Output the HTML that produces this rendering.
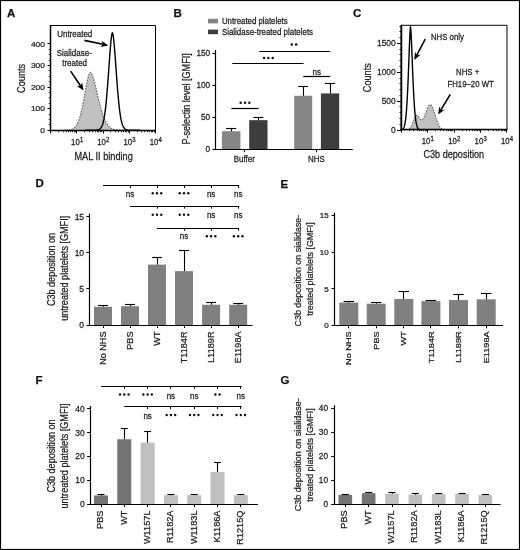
<!DOCTYPE html>
<html><head><meta charset="utf-8"><style>
html,body{margin:0;padding:0;background:#fff;}
svg{display:block;filter:grayscale(1);}
text{font-family:"Liberation Sans", sans-serif;stroke:#222;stroke-width:0.25px;}
</style></head><body>
<svg width="520" height="550" viewBox="0 0 520 550">
<rect x="0" y="0" width="520" height="550" fill="#fff"/>
<rect x="0.50" y="0.50" width="519.00" height="549.00" fill="none" stroke="#000" stroke-width="1.2"/>
<text transform="translate(7.00 17.00)" font-size="11.50" text-anchor="start" font-weight="bold" fill="#111" >A</text>
<text transform="translate(173.50 17.00)" font-size="11.50" text-anchor="start" font-weight="bold" fill="#111" >B</text>
<text transform="translate(353.00 17.00)" font-size="11.50" text-anchor="start" font-weight="bold" fill="#111" >C</text>
<text transform="translate(35.50 187.30)" font-size="11.50" text-anchor="start" font-weight="bold" fill="#111" >D</text>
<text transform="translate(280.50 187.50)" font-size="11.50" text-anchor="start" font-weight="bold" fill="#111" >E</text>
<text transform="translate(35.50 383.80)" font-size="11.50" text-anchor="start" font-weight="bold" fill="#111" >F</text>
<text transform="translate(280.50 383.80)" font-size="11.50" text-anchor="start" font-weight="bold" fill="#111" >G</text>
<path d="M60.00,130.20 L60.54,130.20 L61.08,130.20 L61.62,130.19 L62.17,130.19 L62.71,130.19 L63.25,130.18 L63.79,130.18 L64.33,130.17 L64.88,130.16 L65.42,130.15 L65.96,130.14 L66.50,130.12 L67.04,130.09 L67.58,130.06 L68.12,130.02 L68.67,129.97 L69.21,129.90 L69.75,129.82 L70.29,129.72 L70.83,129.60 L71.38,129.44 L71.92,129.25 L72.46,129.03 L73.00,128.75 L73.54,128.42 L74.08,128.03 L74.62,127.56 L75.17,127.01 L75.71,126.37 L76.25,125.62 L76.79,124.75 L77.33,123.75 L77.88,122.62 L78.42,121.33 L78.96,119.88 L79.50,118.27 L80.04,116.48 L80.58,114.51 L81.12,112.37 L81.67,110.05 L82.21,107.57 L82.75,104.93 L83.29,102.17 L83.83,99.29 L84.38,96.33 L84.92,93.32 L85.46,90.32 L86.00,87.35 L86.54,84.48 L87.08,81.77 L87.62,79.26 L88.17,77.03 L88.71,75.14 L89.25,73.66 L89.79,72.67 L90.30,72.30 L90.33,72.30 L90.88,72.60 L91.42,73.28 L91.96,74.27 L92.50,75.55 L93.04,77.06 L93.58,78.78 L94.12,80.67 L94.67,82.71 L95.21,84.87 L95.75,87.11 L96.29,89.42 L96.83,91.75 L97.38,94.11 L97.92,96.45 L98.46,98.76 L99.00,101.03 L99.54,103.24 L100.08,105.38 L100.62,107.43 L101.17,109.39 L101.71,111.25 L102.25,113.00 L102.79,114.65 L103.33,116.20 L103.88,117.63 L104.42,118.95 L104.96,120.18 L105.50,121.29 L106.04,122.32 L106.58,123.24 L107.12,124.08 L107.67,124.84 L108.21,125.52 L108.75,126.12 L109.29,126.66 L109.83,127.14 L110.38,127.56 L110.92,127.93 L111.46,128.26 L112.00,128.54 L112.54,128.79 L113.08,129.00 L113.62,129.19 L114.17,129.35 L114.71,129.48 L115.25,129.60 L115.79,129.70 L116.33,129.78 L116.88,129.85 L117.42,129.91 L117.96,129.96 L118.50,130.01 L119.04,130.04 L119.58,130.07 L120.12,130.09 L120.67,130.11 L121.21,130.13 L121.75,130.14 L122.29,130.15 L122.83,130.16 L123.38,130.17 L123.92,130.18 L124.46,130.18 L125.00,130.19 L125,130.2 L60,130.2 Z" fill="#c0c0c0" stroke="none" stroke-width="1" />
<path d="M60.00,130.20 L60.54,130.20 L61.08,130.20 L61.62,130.19 L62.17,130.19 L62.71,130.19 L63.25,130.18 L63.79,130.18 L64.33,130.17 L64.88,130.16 L65.42,130.15 L65.96,130.14 L66.50,130.12 L67.04,130.09 L67.58,130.06 L68.12,130.02 L68.67,129.97 L69.21,129.90 L69.75,129.82 L70.29,129.72 L70.83,129.60 L71.38,129.44 L71.92,129.25 L72.46,129.03 L73.00,128.75 L73.54,128.42 L74.08,128.03 L74.62,127.56 L75.17,127.01 L75.71,126.37 L76.25,125.62 L76.79,124.75 L77.33,123.75 L77.88,122.62 L78.42,121.33 L78.96,119.88 L79.50,118.27 L80.04,116.48 L80.58,114.51 L81.12,112.37 L81.67,110.05 L82.21,107.57 L82.75,104.93 L83.29,102.17 L83.83,99.29 L84.38,96.33 L84.92,93.32 L85.46,90.32 L86.00,87.35 L86.54,84.48 L87.08,81.77 L87.62,79.26 L88.17,77.03 L88.71,75.14 L89.25,73.66 L89.79,72.67 L90.30,72.30 L90.33,72.30 L90.88,72.60 L91.42,73.28 L91.96,74.27 L92.50,75.55 L93.04,77.06 L93.58,78.78 L94.12,80.67 L94.67,82.71 L95.21,84.87 L95.75,87.11 L96.29,89.42 L96.83,91.75 L97.38,94.11 L97.92,96.45 L98.46,98.76 L99.00,101.03 L99.54,103.24 L100.08,105.38 L100.62,107.43 L101.17,109.39 L101.71,111.25 L102.25,113.00 L102.79,114.65 L103.33,116.20 L103.88,117.63 L104.42,118.95 L104.96,120.18 L105.50,121.29 L106.04,122.32 L106.58,123.24 L107.12,124.08 L107.67,124.84 L108.21,125.52 L108.75,126.12 L109.29,126.66 L109.83,127.14 L110.38,127.56 L110.92,127.93 L111.46,128.26 L112.00,128.54 L112.54,128.79 L113.08,129.00 L113.62,129.19 L114.17,129.35 L114.71,129.48 L115.25,129.60 L115.79,129.70 L116.33,129.78 L116.88,129.85 L117.42,129.91 L117.96,129.96 L118.50,130.01 L119.04,130.04 L119.58,130.07 L120.12,130.09 L120.67,130.11 L121.21,130.13 L121.75,130.14 L122.29,130.15 L122.83,130.16 L123.38,130.17 L123.92,130.18 L124.46,130.18 L125.00,130.19" fill="none" stroke="#5e5e5e" stroke-width="1.1" stroke-dasharray="1.6 1.3"/>
<path d="M85.00,130.20 L85.46,130.20 L85.92,130.20 L86.38,130.20 L86.83,130.20 L87.29,130.20 L87.75,130.20 L88.21,130.20 L88.67,130.20 L89.12,130.20 L89.58,130.20 L90.04,130.20 L90.50,130.20 L90.96,130.20 L91.42,130.20 L91.88,130.20 L92.33,130.20 L92.79,130.19 L93.25,130.19 L93.71,130.19 L94.17,130.18 L94.62,130.17 L95.08,130.16 L95.54,130.15 L96.00,130.12 L96.46,130.09 L96.92,130.04 L97.38,129.98 L97.83,129.89 L98.29,129.77 L98.75,129.62 L99.21,129.41 L99.67,129.13 L100.12,128.78 L100.58,128.32 L101.04,127.73 L101.50,126.99 L101.96,126.06 L102.42,124.91 L102.88,123.50 L103.33,121.79 L103.79,119.74 L104.25,117.31 L104.71,114.45 L105.17,111.14 L105.62,107.35 L106.08,103.07 L106.54,98.30 L107.00,93.05 L107.46,87.37 L107.92,81.33 L108.38,75.00 L108.83,68.52 L109.29,62.02 L109.75,55.67 L110.21,49.67 L110.67,44.21 L111.12,39.54 L111.58,35.88 L112.04,33.51 L112.40,32.80 L112.50,32.87 L112.96,34.33 L113.42,37.23 L113.88,41.27 L114.33,46.21 L114.79,51.82 L115.25,57.89 L115.71,64.23 L116.17,70.66 L116.62,77.02 L117.08,83.19 L117.54,89.05 L118.00,94.54 L118.46,99.60 L118.92,104.18 L119.38,108.29 L119.83,111.92 L120.29,115.09 L120.75,117.82 L121.21,120.14 L121.67,122.11 L122.12,123.74 L122.58,125.09 L123.04,126.20 L123.50,127.09 L123.96,127.80 L124.42,128.36 L124.88,128.81 L125.33,129.15 L125.79,129.42 L126.25,129.62 L126.71,129.78 L127.17,129.89 L127.62,129.98 L128.08,130.04 L128.54,130.09 L129.00,130.12 L129.46,130.14 L129.92,130.16 L130.38,130.17 L130.83,130.18 L131.29,130.19 L131.75,130.19 L132.21,130.19 L132.67,130.20 L133.12,130.20 L133.58,130.20 L134.04,130.20 L134.50,130.20 L134.96,130.20 L135.42,130.20 L135.88,130.20 L136.33,130.20 L136.79,130.20 L137.25,130.20 L137.71,130.20 L138.17,130.20 L138.62,130.20 L139.08,130.20 L139.54,130.20 L140.00,130.20" fill="none" stroke="#000" stroke-width="1.4" />
<path d="M50.5,25.5 H155.5 V130.5 H50.5 Z" fill="none" stroke="#000" stroke-width="1.0" />
<line x1="50.50" y1="25.00" x2="50.50" y2="131.00" stroke="#000" stroke-width="1.5" />
<line x1="50.00" y1="130.50" x2="156.00" y2="130.50" stroke="#000" stroke-width="1.5" />
<line x1="47.50" y1="130.50" x2="50.50" y2="130.50" stroke="#000" stroke-width="1" />
<text transform="translate(44.90 132.80) scale(1.0526 1)" font-size="7.98" text-anchor="end" font-weight="normal" fill="#222" >0</text>
<line x1="48.70" y1="124.50" x2="50.50" y2="124.50" stroke="#000" stroke-width="0.8" />
<line x1="48.70" y1="119.50" x2="50.50" y2="119.50" stroke="#000" stroke-width="0.8" />
<line x1="48.70" y1="114.50" x2="50.50" y2="114.50" stroke="#000" stroke-width="0.8" />
<line x1="47.50" y1="108.50" x2="50.50" y2="108.50" stroke="#000" stroke-width="1" />
<text transform="translate(44.90 111.25) scale(1.0526 1)" font-size="7.98" text-anchor="end" font-weight="normal" fill="#222" >100</text>
<line x1="48.70" y1="103.50" x2="50.50" y2="103.50" stroke="#000" stroke-width="0.8" />
<line x1="48.70" y1="97.50" x2="50.50" y2="97.50" stroke="#000" stroke-width="0.8" />
<line x1="48.70" y1="92.50" x2="50.50" y2="92.50" stroke="#000" stroke-width="0.8" />
<line x1="47.50" y1="87.50" x2="50.50" y2="87.50" stroke="#000" stroke-width="1" />
<text transform="translate(44.90 89.70) scale(1.0526 1)" font-size="7.98" text-anchor="end" font-weight="normal" fill="#222" >200</text>
<line x1="48.70" y1="81.50" x2="50.50" y2="81.50" stroke="#000" stroke-width="0.8" />
<line x1="48.70" y1="76.50" x2="50.50" y2="76.50" stroke="#000" stroke-width="0.8" />
<line x1="48.70" y1="70.50" x2="50.50" y2="70.50" stroke="#000" stroke-width="0.8" />
<line x1="47.50" y1="65.50" x2="50.50" y2="65.50" stroke="#000" stroke-width="1" />
<text transform="translate(44.90 68.15) scale(1.0526 1)" font-size="7.98" text-anchor="end" font-weight="normal" fill="#222" >300</text>
<line x1="48.70" y1="60.50" x2="50.50" y2="60.50" stroke="#000" stroke-width="0.8" />
<line x1="48.70" y1="54.50" x2="50.50" y2="54.50" stroke="#000" stroke-width="0.8" />
<line x1="48.70" y1="49.50" x2="50.50" y2="49.50" stroke="#000" stroke-width="0.8" />
<line x1="47.50" y1="43.50" x2="50.50" y2="43.50" stroke="#000" stroke-width="1" />
<text transform="translate(44.90 46.60) scale(1.0526 1)" font-size="7.98" text-anchor="end" font-weight="normal" fill="#222" >400</text>
<line x1="50.50" y1="130.50" x2="50.50" y2="133.50" stroke="#000" stroke-width="1" />
<line x1="58.50" y1="130.50" x2="58.50" y2="132.30" stroke="#000" stroke-width="0.8" />
<line x1="63.50" y1="130.50" x2="63.50" y2="132.30" stroke="#000" stroke-width="0.8" />
<line x1="66.50" y1="130.50" x2="66.50" y2="132.30" stroke="#000" stroke-width="0.8" />
<line x1="68.50" y1="130.50" x2="68.50" y2="132.30" stroke="#000" stroke-width="0.8" />
<line x1="70.50" y1="130.50" x2="70.50" y2="132.30" stroke="#000" stroke-width="0.8" />
<line x1="72.50" y1="130.50" x2="72.50" y2="132.30" stroke="#000" stroke-width="0.8" />
<line x1="74.50" y1="130.50" x2="74.50" y2="132.30" stroke="#000" stroke-width="0.8" />
<line x1="75.50" y1="130.50" x2="75.50" y2="132.30" stroke="#000" stroke-width="0.8" />
<line x1="76.50" y1="130.50" x2="76.50" y2="133.50" stroke="#000" stroke-width="1" />
<line x1="84.50" y1="130.50" x2="84.50" y2="132.30" stroke="#000" stroke-width="0.8" />
<line x1="89.50" y1="130.50" x2="89.50" y2="132.30" stroke="#000" stroke-width="0.8" />
<line x1="92.50" y1="130.50" x2="92.50" y2="132.30" stroke="#000" stroke-width="0.8" />
<line x1="95.50" y1="130.50" x2="95.50" y2="132.30" stroke="#000" stroke-width="0.8" />
<line x1="97.50" y1="130.50" x2="97.50" y2="132.30" stroke="#000" stroke-width="0.8" />
<line x1="98.50" y1="130.50" x2="98.50" y2="132.30" stroke="#000" stroke-width="0.8" />
<line x1="100.50" y1="130.50" x2="100.50" y2="132.30" stroke="#000" stroke-width="0.8" />
<line x1="101.50" y1="130.50" x2="101.50" y2="132.30" stroke="#000" stroke-width="0.8" />
<line x1="103.50" y1="130.50" x2="103.50" y2="133.50" stroke="#000" stroke-width="1" />
<line x1="110.50" y1="130.50" x2="110.50" y2="132.30" stroke="#000" stroke-width="0.8" />
<line x1="115.50" y1="130.50" x2="115.50" y2="132.30" stroke="#000" stroke-width="0.8" />
<line x1="118.50" y1="130.50" x2="118.50" y2="132.30" stroke="#000" stroke-width="0.8" />
<line x1="121.50" y1="130.50" x2="121.50" y2="132.30" stroke="#000" stroke-width="0.8" />
<line x1="123.50" y1="130.50" x2="123.50" y2="132.30" stroke="#000" stroke-width="0.8" />
<line x1="125.50" y1="130.50" x2="125.50" y2="132.30" stroke="#000" stroke-width="0.8" />
<line x1="126.50" y1="130.50" x2="126.50" y2="132.30" stroke="#000" stroke-width="0.8" />
<line x1="128.50" y1="130.50" x2="128.50" y2="132.30" stroke="#000" stroke-width="0.8" />
<line x1="129.50" y1="130.50" x2="129.50" y2="133.50" stroke="#000" stroke-width="1" />
<line x1="137.50" y1="130.50" x2="137.50" y2="132.30" stroke="#000" stroke-width="0.8" />
<line x1="141.50" y1="130.50" x2="141.50" y2="132.30" stroke="#000" stroke-width="0.8" />
<line x1="144.50" y1="130.50" x2="144.50" y2="132.30" stroke="#000" stroke-width="0.8" />
<line x1="147.50" y1="130.50" x2="147.50" y2="132.30" stroke="#000" stroke-width="0.8" />
<line x1="149.50" y1="130.50" x2="149.50" y2="132.30" stroke="#000" stroke-width="0.8" />
<line x1="151.50" y1="130.50" x2="151.50" y2="132.30" stroke="#000" stroke-width="0.8" />
<line x1="152.50" y1="130.50" x2="152.50" y2="132.30" stroke="#000" stroke-width="0.8" />
<line x1="154.50" y1="130.50" x2="154.50" y2="132.30" stroke="#000" stroke-width="0.8" />
<line x1="155.50" y1="130.50" x2="155.50" y2="133.50" stroke="#000" stroke-width="1" />
<text transform="translate(75.40 144.80) scale(0.9091 1)" font-size="8.58" text-anchor="middle" font-weight="normal" fill="#222" >10</text>
<text transform="translate(79.90 141.60) scale(0.9091 1)" font-size="6.60" text-anchor="start" font-weight="normal" fill="#222" >1</text>
<text transform="translate(101.60 144.80) scale(0.9091 1)" font-size="8.58" text-anchor="middle" font-weight="normal" fill="#222" >10</text>
<text transform="translate(106.10 141.60) scale(0.9091 1)" font-size="6.60" text-anchor="start" font-weight="normal" fill="#222" >2</text>
<text transform="translate(127.80 144.80) scale(0.9091 1)" font-size="8.58" text-anchor="middle" font-weight="normal" fill="#222" >10</text>
<text transform="translate(132.30 141.60) scale(0.9091 1)" font-size="6.60" text-anchor="start" font-weight="normal" fill="#222" >3</text>
<text transform="translate(154.00 144.80) scale(0.9091 1)" font-size="8.58" text-anchor="middle" font-weight="normal" fill="#222" >10</text>
<text transform="translate(158.50 141.60) scale(0.9091 1)" font-size="6.60" text-anchor="start" font-weight="normal" fill="#222" >4</text>
<text transform="translate(74.40 159.60) scale(0.9091 1)" font-size="10.12" text-anchor="start" font-weight="normal" fill="#222" >MAL II binding</text>
<text transform="translate(25.20 78.40) rotate(-90) scale(0.8197 1)" font-size="11.22" text-anchor="middle" font-weight="normal" fill="#222" >Counts</text>
<text transform="translate(57.20 37.30) scale(0.9091 1)" font-size="8.80" text-anchor="start" font-weight="normal" fill="#222" >Untreated</text>
<text transform="translate(74.30 56.30) scale(0.9091 1)" font-size="8.80" text-anchor="middle" font-weight="normal" fill="#222" >Sialidase-</text>
<text transform="translate(74.60 65.50) scale(0.9091 1)" font-size="8.80" text-anchor="middle" font-weight="normal" fill="#222" >treated</text>
<line x1="84.40" y1="40.40" x2="103.01" y2="44.29" stroke="#000" stroke-width="1.6" />
<polygon points="108.30,45.40 100.30,47.00 103.01,44.29 101.61,40.73" fill="#000"/>
<line x1="70.60" y1="71.10" x2="80.59" y2="86.01" stroke="#000" stroke-width="1.6" />
<polygon points="83.60,90.50 76.77,86.05 80.59,86.01 82.08,82.49" fill="#000"/>
<rect x="221.90" y="131.24" width="18.50" height="17.96" fill="#858585" stroke="none" stroke-width="0"/>
<line x1="231.50" y1="131.24" x2="231.50" y2="128.55" stroke="#000" stroke-width="1.1" />
<line x1="226.06" y1="128.50" x2="236.24" y2="128.50" stroke="#000" stroke-width="1.1" />
<rect x="249.20" y="120.15" width="18.30" height="29.05" fill="#3d3d3d" stroke="none" stroke-width="0"/>
<line x1="258.50" y1="120.15" x2="258.50" y2="117.26" stroke="#000" stroke-width="1.1" />
<line x1="253.32" y1="117.50" x2="263.38" y2="117.50" stroke="#000" stroke-width="1.1" />
<rect x="294.20" y="95.78" width="18.00" height="53.42" fill="#858585" stroke="none" stroke-width="0"/>
<line x1="303.50" y1="95.78" x2="303.50" y2="86.48" stroke="#000" stroke-width="1.1" />
<line x1="298.25" y1="86.50" x2="308.15" y2="86.50" stroke="#000" stroke-width="1.1" />
<rect x="320.90" y="93.41" width="18.30" height="55.79" fill="#3d3d3d" stroke="none" stroke-width="0"/>
<line x1="330.50" y1="93.41" x2="330.50" y2="83.02" stroke="#000" stroke-width="1.1" />
<line x1="325.02" y1="83.50" x2="335.08" y2="83.50" stroke="#000" stroke-width="1.1" />
<line x1="215.50" y1="50.00" x2="215.50" y2="149.70" stroke="#000" stroke-width="1.2" />
<line x1="215.40" y1="149.50" x2="352.70" y2="149.50" stroke="#000" stroke-width="1.2" />
<line x1="212.40" y1="149.50" x2="215.90" y2="149.50" stroke="#000" stroke-width="1" />
<text transform="translate(210.10 152.00) scale(0.9091 1)" font-size="9.02" text-anchor="end" font-weight="normal" fill="#222" >0</text>
<line x1="212.40" y1="117.50" x2="215.90" y2="117.50" stroke="#000" stroke-width="1" />
<text transform="translate(210.10 119.93) scale(0.9091 1)" font-size="9.02" text-anchor="end" font-weight="normal" fill="#222" >50</text>
<line x1="212.40" y1="85.50" x2="215.90" y2="85.50" stroke="#000" stroke-width="1" />
<text transform="translate(210.10 87.87) scale(0.9091 1)" font-size="9.02" text-anchor="end" font-weight="normal" fill="#222" >100</text>
<line x1="212.40" y1="53.50" x2="215.90" y2="53.50" stroke="#000" stroke-width="1" />
<text transform="translate(210.10 55.80) scale(0.9091 1)" font-size="9.02" text-anchor="end" font-weight="normal" fill="#222" >150</text>
<line x1="244.50" y1="149.20" x2="244.50" y2="152.20" stroke="#000" stroke-width="1" />
<line x1="316.50" y1="149.20" x2="316.50" y2="152.20" stroke="#000" stroke-width="1" />
<text transform="translate(244.30 162.20) scale(0.9091 1)" font-size="8.80" text-anchor="middle" font-weight="normal" fill="#222" >Buffer</text>
<text transform="translate(316.40 162.20) scale(0.9091 1)" font-size="8.80" text-anchor="middle" font-weight="normal" fill="#222" >NHS</text>
<text transform="translate(190.30 98.90) rotate(-90) scale(0.9091 1)" font-size="10.01" text-anchor="middle" font-weight="normal" fill="#222" >P-selectin level [GMFI]</text>
<rect x="208.00" y="18.80" width="10.00" height="4.60" fill="#858585" stroke="none" stroke-width="0"/>
<rect x="208.00" y="29.60" width="10.00" height="4.60" fill="#3d3d3d" stroke="none" stroke-width="0"/>
<text transform="translate(221.90 24.00) scale(0.9091 1)" font-size="8.63" text-anchor="start" font-weight="normal" fill="#222" >Untreated platelets</text>
<text transform="translate(221.90 34.80) scale(0.9091 1)" font-size="8.72" text-anchor="start" font-weight="normal" fill="#222" >Sialidase-treated platelets</text>
<line x1="231.40" y1="108.50" x2="258.60" y2="108.50" stroke="#000" stroke-width="1.2" />
<circle cx="0" cy="0" r="0" fill="none"/>
<circle cx="240.70" cy="102.80" r="1.25" fill="#111"/>
<circle cx="245.00" cy="102.80" r="1.25" fill="#111"/>
<circle cx="249.30" cy="102.80" r="1.25" fill="#111"/>
<line x1="232.30" y1="63.50" x2="303.60" y2="63.50" stroke="#000" stroke-width="1.2" />
<circle cx="0" cy="0" r="0" fill="none"/>
<circle cx="264.10" cy="58.10" r="1.25" fill="#111"/>
<circle cx="268.40" cy="58.10" r="1.25" fill="#111"/>
<circle cx="272.70" cy="58.10" r="1.25" fill="#111"/>
<line x1="259.30" y1="51.50" x2="330.30" y2="51.50" stroke="#000" stroke-width="1.2" />
<circle cx="0" cy="0" r="0" fill="none"/>
<circle cx="291.85" cy="44.50" r="1.25" fill="#111"/>
<circle cx="296.15" cy="44.50" r="1.25" fill="#111"/>
<line x1="303.30" y1="76.50" x2="330.30" y2="76.50" stroke="#000" stroke-width="1.2" />
<text transform="translate(316.80 74.50) scale(0.9091 1)" font-size="8.80" text-anchor="middle" font-weight="normal" fill="#222" >ns</text>
<path d="M404.00,129.99 L404.30,129.99 L404.60,129.99 L404.90,129.98 L405.20,129.97 L405.50,129.96 L405.80,129.95 L406.10,129.93 L406.40,129.91 L406.70,129.87 L407.00,129.83 L407.30,129.78 L407.60,129.71 L407.90,129.63 L408.20,129.52 L408.50,129.39 L408.80,129.23 L409.10,129.04 L409.40,128.82 L409.70,128.55 L410.00,128.24 L410.30,127.88 L410.60,127.47 L410.90,127.00 L411.20,126.48 L411.50,125.90 L411.80,125.27 L412.10,124.59 L412.40,123.87 L412.70,123.11 L413.00,122.33 L413.30,121.52 L413.60,120.72 L413.90,119.92 L414.20,119.15 L414.50,118.41 L414.80,117.73 L415.10,117.12 L415.40,116.58 L415.70,116.14 L416.00,115.79 L416.30,115.55 L416.60,115.41 L416.90,115.38 L417.20,115.44 L417.50,115.60 L417.80,115.85 L418.10,116.16 L418.40,116.53 L418.70,116.94 L419.00,117.38 L419.30,117.82 L419.60,118.25 L419.90,118.66 L420.20,119.02 L420.50,119.33 L420.80,119.57 L421.10,119.75 L421.40,119.84 L421.70,119.84 L422.00,119.76 L422.30,119.59 L422.60,119.33 L422.90,118.99 L423.20,118.56 L423.50,118.07 L423.80,117.50 L424.10,116.87 L424.40,116.19 L424.70,115.46 L425.00,114.70 L425.30,113.91 L425.60,113.10 L425.90,112.28 L426.20,111.45 L426.50,110.64 L426.80,109.85 L427.10,109.08 L427.40,108.34 L427.70,107.66 L428.00,107.02 L428.30,106.45 L428.60,105.94 L428.90,105.51 L429.20,105.17 L429.50,104.90 L429.80,104.73 L430.10,104.65 L430.40,104.67 L430.70,104.78 L431.00,105.00 L431.30,105.30 L431.60,105.70 L431.90,106.18 L432.20,106.75 L432.50,107.40 L432.80,108.11 L433.10,108.89 L433.40,109.73 L433.70,110.61 L434.00,111.53 L434.30,112.47 L434.60,113.44 L434.90,114.42 L435.20,115.40 L435.50,116.38 L435.80,117.35 L436.10,118.29 L436.40,119.21 L436.70,120.10 L437.00,120.96 L437.30,121.77 L437.60,122.55 L437.90,123.28 L438.20,123.96 L438.50,124.60 L438.80,125.19 L439.10,125.73 L439.40,126.23 L439.70,126.68 L440.00,127.09 L440.30,127.47 L440.60,127.80 L440.90,128.10 L441.20,128.36 L441.50,128.60 L441.80,128.80 L442.10,128.98 L442.40,129.14 L442.70,129.27 L443.00,129.39 L443.30,129.49 L443.60,129.58 L443.90,129.65 L444.20,129.71 L444.50,129.76 L444.80,129.80 L445.10,129.84 L445.40,129.87 L445.70,129.90 L446.00,129.92 L446.30,129.93 L446.60,129.95 L446.90,129.96 L447.20,129.97 L447.50,129.97 L447.80,129.98 L448.10,129.98 L448.40,129.99 L448.70,129.99 L449.00,129.99 L449.30,129.99 L449.60,130.00 L449.90,130.00 L450.20,130.00 L450.50,130.00 L450.80,130.00 L451.10,130.00 L451.40,130.00 L451.70,130.00 L452.00,130.00 L452.00,130.00 L404.00,130.00 Z" fill="#c0c0c0" stroke="none" stroke-width="1" />
<path d="M404.00,129.99 L404.30,129.99 L404.60,129.99 L404.90,129.98 L405.20,129.97 L405.50,129.96 L405.80,129.95 L406.10,129.93 L406.40,129.91 L406.70,129.87 L407.00,129.83 L407.30,129.78 L407.60,129.71 L407.90,129.63 L408.20,129.52 L408.50,129.39 L408.80,129.23 L409.10,129.04 L409.40,128.82 L409.70,128.55 L410.00,128.24 L410.30,127.88 L410.60,127.47 L410.90,127.00 L411.20,126.48 L411.50,125.90 L411.80,125.27 L412.10,124.59 L412.40,123.87 L412.70,123.11 L413.00,122.33 L413.30,121.52 L413.60,120.72 L413.90,119.92 L414.20,119.15 L414.50,118.41 L414.80,117.73 L415.10,117.12 L415.40,116.58 L415.70,116.14 L416.00,115.79 L416.30,115.55 L416.60,115.41 L416.90,115.38 L417.20,115.44 L417.50,115.60 L417.80,115.85 L418.10,116.16 L418.40,116.53 L418.70,116.94 L419.00,117.38 L419.30,117.82 L419.60,118.25 L419.90,118.66 L420.20,119.02 L420.50,119.33 L420.80,119.57 L421.10,119.75 L421.40,119.84 L421.70,119.84 L422.00,119.76 L422.30,119.59 L422.60,119.33 L422.90,118.99 L423.20,118.56 L423.50,118.07 L423.80,117.50 L424.10,116.87 L424.40,116.19 L424.70,115.46 L425.00,114.70 L425.30,113.91 L425.60,113.10 L425.90,112.28 L426.20,111.45 L426.50,110.64 L426.80,109.85 L427.10,109.08 L427.40,108.34 L427.70,107.66 L428.00,107.02 L428.30,106.45 L428.60,105.94 L428.90,105.51 L429.20,105.17 L429.50,104.90 L429.80,104.73 L430.10,104.65 L430.40,104.67 L430.70,104.78 L431.00,105.00 L431.30,105.30 L431.60,105.70 L431.90,106.18 L432.20,106.75 L432.50,107.40 L432.80,108.11 L433.10,108.89 L433.40,109.73 L433.70,110.61 L434.00,111.53 L434.30,112.47 L434.60,113.44 L434.90,114.42 L435.20,115.40 L435.50,116.38 L435.80,117.35 L436.10,118.29 L436.40,119.21 L436.70,120.10 L437.00,120.96 L437.30,121.77 L437.60,122.55 L437.90,123.28 L438.20,123.96 L438.50,124.60 L438.80,125.19 L439.10,125.73 L439.40,126.23 L439.70,126.68 L440.00,127.09 L440.30,127.47 L440.60,127.80 L440.90,128.10 L441.20,128.36 L441.50,128.60 L441.80,128.80 L442.10,128.98 L442.40,129.14 L442.70,129.27 L443.00,129.39 L443.30,129.49 L443.60,129.58 L443.90,129.65 L444.20,129.71 L444.50,129.76 L444.80,129.80 L445.10,129.84 L445.40,129.87 L445.70,129.90 L446.00,129.92 L446.30,129.93 L446.60,129.95 L446.90,129.96 L447.20,129.97 L447.50,129.97 L447.80,129.98 L448.10,129.98 L448.40,129.99 L448.70,129.99 L449.00,129.99 L449.30,129.99 L449.60,130.00 L449.90,130.00 L450.20,130.00 L450.50,130.00 L450.80,130.00 L451.10,130.00 L451.40,130.00 L451.70,130.00 L452.00,130.00" fill="none" stroke="#5e5e5e" stroke-width="1.1" stroke-dasharray="1.6 1.3"/>
<path d="M401.50,129.75 L401.62,129.72 L401.74,129.68 L401.87,129.63 L401.99,129.58 L402.11,129.53 L402.23,129.46 L402.35,129.39 L402.48,129.31 L402.60,129.23 L402.72,129.13 L402.84,129.02 L402.96,128.89 L403.08,128.76 L403.21,128.61 L403.33,128.44 L403.45,128.25 L403.57,128.04 L403.69,127.81 L403.82,127.56 L403.94,127.28 L404.06,126.97 L404.18,126.63 L404.30,126.26 L404.43,125.85 L404.55,125.40 L404.67,124.91 L404.79,124.37 L404.91,123.79 L405.03,123.16 L405.16,122.47 L405.28,121.72 L405.40,120.91 L405.52,120.03 L405.64,119.08 L405.77,118.06 L405.89,116.96 L406.01,115.78 L406.13,114.51 L406.25,113.16 L406.38,111.71 L406.50,110.17 L406.62,108.53 L406.74,106.78 L406.86,104.94 L406.98,102.99 L407.11,100.93 L407.23,98.76 L407.35,96.48 L407.47,94.10 L407.59,91.61 L407.72,89.02 L407.84,86.32 L407.96,83.53 L408.08,80.65 L408.20,77.68 L408.32,74.63 L408.45,71.52 L408.57,68.35 L408.69,65.13 L408.81,61.89 L408.93,58.63 L409.06,55.37 L409.18,52.14 L409.30,48.95 L409.42,45.83 L409.54,42.81 L409.67,39.92 L409.79,37.18 L409.91,34.64 L410.03,32.34 L410.15,30.33 L410.27,28.68 L410.40,27.49 L410.50,27.00 L410.52,27.03 L410.64,27.73 L410.76,28.98 L410.88,30.61 L411.01,32.56 L411.13,34.76 L411.25,37.18 L411.37,39.78 L411.49,42.52 L411.62,45.37 L411.74,48.32 L411.86,51.34 L411.98,54.40 L412.10,57.49 L412.23,60.58 L412.35,63.68 L412.47,66.75 L412.59,69.78 L412.71,72.77 L412.83,75.71 L412.96,78.58 L413.08,81.38 L413.20,84.10 L413.32,86.73 L413.44,89.28 L413.57,91.74 L413.69,94.10 L413.81,96.37 L413.93,98.54 L414.05,100.61 L414.18,102.58 L414.30,104.46 L414.42,106.24 L414.54,107.93 L414.66,109.52 L414.78,111.03 L414.91,112.45 L415.03,113.78 L415.15,115.03 L415.27,116.20 L415.39,117.30 L415.52,118.32 L415.64,119.28 L415.76,120.16 L415.88,120.99 L416.00,121.76 L416.12,122.47 L416.25,123.12 L416.37,123.73 L416.49,124.29 L416.61,124.81 L416.73,125.28 L416.86,125.72 L416.98,126.12 L417.10,126.48 L417.22,126.82 L417.34,127.13 L417.47,127.41 L417.59,127.66 L417.71,127.89 L417.83,128.11 L417.95,128.30 L418.07,128.47 L418.20,128.63 L418.32,128.77 L418.44,128.90 L418.56,129.02 L418.68,129.12 L418.81,129.22 L418.93,129.30 L419.05,129.38 L419.17,129.45 L419.29,129.51 L419.42,129.56 L419.54,129.61 L419.66,129.66 L419.78,129.70 L419.90,129.73 L420.02,129.76 L420.15,129.79 L420.27,129.82 L420.39,129.84 L420.51,129.86 L420.63,129.87 L420.76,129.89 L420.88,129.90 L421.00,129.91" fill="none" stroke="#000" stroke-width="1.4" />
<path d="M401,25.3 H507 V129.6 H401 Z" fill="none" stroke="#000" stroke-width="1.0" />
<line x1="401.50" y1="24.80" x2="401.50" y2="130.10" stroke="#000" stroke-width="1.5" />
<line x1="400.50" y1="129.50" x2="507.50" y2="129.50" stroke="#000" stroke-width="1.5" />
<line x1="397.00" y1="130.50" x2="401.00" y2="130.50" stroke="#000" stroke-width="1" />
<text transform="translate(395.70 132.90) scale(0.9091 1)" font-size="9.24" text-anchor="end" font-weight="normal" fill="#222" >0</text>
<line x1="399.40" y1="124.50" x2="401.00" y2="124.50" stroke="#000" stroke-width="0.8" />
<line x1="399.40" y1="118.50" x2="401.00" y2="118.50" stroke="#000" stroke-width="0.8" />
<line x1="399.40" y1="112.50" x2="401.00" y2="112.50" stroke="#000" stroke-width="0.8" />
<line x1="399.40" y1="106.50" x2="401.00" y2="106.50" stroke="#000" stroke-width="0.8" />
<line x1="397.00" y1="101.50" x2="401.00" y2="101.50" stroke="#000" stroke-width="1" />
<text transform="translate(395.70 104.05) scale(0.9091 1)" font-size="9.24" text-anchor="end" font-weight="normal" fill="#222" >500</text>
<line x1="399.40" y1="95.50" x2="401.00" y2="95.50" stroke="#000" stroke-width="0.8" />
<line x1="399.40" y1="89.50" x2="401.00" y2="89.50" stroke="#000" stroke-width="0.8" />
<line x1="399.40" y1="83.50" x2="401.00" y2="83.50" stroke="#000" stroke-width="0.8" />
<line x1="399.40" y1="78.50" x2="401.00" y2="78.50" stroke="#000" stroke-width="0.8" />
<line x1="397.00" y1="72.50" x2="401.00" y2="72.50" stroke="#000" stroke-width="1" />
<text transform="translate(395.70 75.20) scale(0.9091 1)" font-size="9.24" text-anchor="end" font-weight="normal" fill="#222" >1000</text>
<line x1="399.40" y1="66.50" x2="401.00" y2="66.50" stroke="#000" stroke-width="0.8" />
<line x1="399.40" y1="60.50" x2="401.00" y2="60.50" stroke="#000" stroke-width="0.8" />
<line x1="399.40" y1="54.50" x2="401.00" y2="54.50" stroke="#000" stroke-width="0.8" />
<line x1="399.40" y1="49.50" x2="401.00" y2="49.50" stroke="#000" stroke-width="0.8" />
<line x1="397.00" y1="43.50" x2="401.00" y2="43.50" stroke="#000" stroke-width="1" />
<text transform="translate(395.70 46.35) scale(0.9091 1)" font-size="9.24" text-anchor="end" font-weight="normal" fill="#222" >1500</text>
<line x1="399.40" y1="37.50" x2="401.00" y2="37.50" stroke="#000" stroke-width="0.8" />
<line x1="399.40" y1="31.50" x2="401.00" y2="31.50" stroke="#000" stroke-width="0.8" />
<line x1="399.40" y1="26.50" x2="401.00" y2="26.50" stroke="#000" stroke-width="0.8" />
<line x1="401.50" y1="129.60" x2="401.50" y2="132.60" stroke="#000" stroke-width="1" />
<line x1="409.50" y1="129.60" x2="409.50" y2="131.20" stroke="#000" stroke-width="0.8" />
<line x1="413.50" y1="129.60" x2="413.50" y2="131.20" stroke="#000" stroke-width="0.8" />
<line x1="417.50" y1="129.60" x2="417.50" y2="131.20" stroke="#000" stroke-width="0.8" />
<line x1="419.50" y1="129.60" x2="419.50" y2="131.20" stroke="#000" stroke-width="0.8" />
<line x1="421.50" y1="129.60" x2="421.50" y2="131.20" stroke="#000" stroke-width="0.8" />
<line x1="423.50" y1="129.60" x2="423.50" y2="131.20" stroke="#000" stroke-width="0.8" />
<line x1="425.50" y1="129.60" x2="425.50" y2="131.20" stroke="#000" stroke-width="0.8" />
<line x1="426.50" y1="129.60" x2="426.50" y2="131.20" stroke="#000" stroke-width="0.8" />
<line x1="427.50" y1="129.60" x2="427.50" y2="132.60" stroke="#000" stroke-width="1" />
<line x1="435.50" y1="129.60" x2="435.50" y2="131.20" stroke="#000" stroke-width="0.8" />
<line x1="440.50" y1="129.60" x2="440.50" y2="131.20" stroke="#000" stroke-width="0.8" />
<line x1="443.50" y1="129.60" x2="443.50" y2="131.20" stroke="#000" stroke-width="0.8" />
<line x1="446.50" y1="129.60" x2="446.50" y2="131.20" stroke="#000" stroke-width="0.8" />
<line x1="448.50" y1="129.60" x2="448.50" y2="131.20" stroke="#000" stroke-width="0.8" />
<line x1="450.50" y1="129.60" x2="450.50" y2="131.20" stroke="#000" stroke-width="0.8" />
<line x1="451.50" y1="129.60" x2="451.50" y2="131.20" stroke="#000" stroke-width="0.8" />
<line x1="452.50" y1="129.60" x2="452.50" y2="131.20" stroke="#000" stroke-width="0.8" />
<line x1="454.50" y1="129.60" x2="454.50" y2="132.60" stroke="#000" stroke-width="1" />
<line x1="462.50" y1="129.60" x2="462.50" y2="131.20" stroke="#000" stroke-width="0.8" />
<line x1="466.50" y1="129.60" x2="466.50" y2="131.20" stroke="#000" stroke-width="0.8" />
<line x1="469.50" y1="129.60" x2="469.50" y2="131.20" stroke="#000" stroke-width="0.8" />
<line x1="472.50" y1="129.60" x2="472.50" y2="131.20" stroke="#000" stroke-width="0.8" />
<line x1="474.50" y1="129.60" x2="474.50" y2="131.20" stroke="#000" stroke-width="0.8" />
<line x1="476.50" y1="129.60" x2="476.50" y2="131.20" stroke="#000" stroke-width="0.8" />
<line x1="477.50" y1="129.60" x2="477.50" y2="131.20" stroke="#000" stroke-width="0.8" />
<line x1="479.50" y1="129.60" x2="479.50" y2="131.20" stroke="#000" stroke-width="0.8" />
<line x1="480.50" y1="129.60" x2="480.50" y2="132.60" stroke="#000" stroke-width="1" />
<line x1="488.50" y1="129.60" x2="488.50" y2="131.20" stroke="#000" stroke-width="0.8" />
<line x1="493.50" y1="129.60" x2="493.50" y2="131.20" stroke="#000" stroke-width="0.8" />
<line x1="496.50" y1="129.60" x2="496.50" y2="131.20" stroke="#000" stroke-width="0.8" />
<line x1="498.50" y1="129.60" x2="498.50" y2="131.20" stroke="#000" stroke-width="0.8" />
<line x1="501.50" y1="129.60" x2="501.50" y2="131.20" stroke="#000" stroke-width="0.8" />
<line x1="502.50" y1="129.60" x2="502.50" y2="131.20" stroke="#000" stroke-width="0.8" />
<line x1="504.50" y1="129.60" x2="504.50" y2="131.20" stroke="#000" stroke-width="0.8" />
<line x1="505.50" y1="129.60" x2="505.50" y2="131.20" stroke="#000" stroke-width="0.8" />
<line x1="506.50" y1="129.60" x2="506.50" y2="132.60" stroke="#000" stroke-width="1" />
<text transform="translate(426.10 144.20) scale(0.9091 1)" font-size="8.58" text-anchor="middle" font-weight="normal" fill="#222" >10</text>
<text transform="translate(430.60 141.00) scale(0.9091 1)" font-size="6.60" text-anchor="start" font-weight="normal" fill="#222" >1</text>
<text transform="translate(452.50 144.20) scale(0.9091 1)" font-size="8.58" text-anchor="middle" font-weight="normal" fill="#222" >10</text>
<text transform="translate(457.00 141.00) scale(0.9091 1)" font-size="6.60" text-anchor="start" font-weight="normal" fill="#222" >2</text>
<text transform="translate(478.90 144.20) scale(0.9091 1)" font-size="8.58" text-anchor="middle" font-weight="normal" fill="#222" >10</text>
<text transform="translate(483.40 141.00) scale(0.9091 1)" font-size="6.60" text-anchor="start" font-weight="normal" fill="#222" >3</text>
<text transform="translate(505.30 144.20) scale(0.9091 1)" font-size="8.58" text-anchor="middle" font-weight="normal" fill="#222" >10</text>
<text transform="translate(509.80 141.00) scale(0.9091 1)" font-size="6.60" text-anchor="start" font-weight="normal" fill="#222" >4</text>
<text transform="translate(423.50 158.20) scale(0.9091 1)" font-size="10.01" text-anchor="start" font-weight="normal" fill="#222" >C3b deposition</text>
<text transform="translate(371.30 77.70) rotate(-90) scale(0.8197 1)" font-size="11.22" text-anchor="middle" font-weight="normal" fill="#222" >Counts</text>
<text transform="translate(431.00 40.40) scale(0.9091 1)" font-size="8.58" text-anchor="start" font-weight="normal" fill="#222" >NHS only</text>
<text transform="translate(467.60 75.30) scale(0.9091 1)" font-size="8.58" text-anchor="middle" font-weight="normal" fill="#222" >NHS +</text>
<text transform="translate(470.60 87.10) scale(0.9091 1)" font-size="8.58" text-anchor="middle" font-weight="normal" fill="#222" >FH19–20 WT</text>
<line x1="425.30" y1="39.00" x2="416.81" y2="55.22" stroke="#000" stroke-width="1.6" />
<polygon points="414.30,60.00 414.95,51.87 416.81,55.22 420.61,54.84" fill="#000"/>
<line x1="450.30" y1="94.40" x2="440.90" y2="109.88" stroke="#000" stroke-width="1.6" />
<polygon points="438.10,114.50 439.26,106.43 440.90,109.88 444.73,109.75" fill="#000"/>
<rect x="94.00" y="306.78" width="18.00" height="18.22" fill="#808080" stroke="none" stroke-width="0"/>
<line x1="103.50" y1="306.78" x2="103.50" y2="305.91" stroke="#000" stroke-width="1.1" />
<line x1="98.05" y1="305.50" x2="107.95" y2="305.50" stroke="#000" stroke-width="1.1" />
<rect x="121.00" y="306.20" width="18.00" height="18.80" fill="#808080" stroke="none" stroke-width="0"/>
<line x1="130.50" y1="306.20" x2="130.50" y2="304.90" stroke="#000" stroke-width="1.1" />
<line x1="125.05" y1="304.50" x2="134.95" y2="304.50" stroke="#000" stroke-width="1.1" />
<rect x="148.00" y="264.63" width="18.00" height="60.37" fill="#808080" stroke="none" stroke-width="0"/>
<line x1="157.50" y1="264.63" x2="157.50" y2="257.40" stroke="#000" stroke-width="1.1" />
<line x1="152.05" y1="257.50" x2="161.95" y2="257.50" stroke="#000" stroke-width="1.1" />
<rect x="175.00" y="271.14" width="18.00" height="53.86" fill="#808080" stroke="none" stroke-width="0"/>
<line x1="184.50" y1="271.14" x2="184.50" y2="250.89" stroke="#000" stroke-width="1.1" />
<line x1="179.05" y1="250.50" x2="188.95" y2="250.50" stroke="#000" stroke-width="1.1" />
<rect x="202.10" y="304.76" width="18.00" height="20.24" fill="#808080" stroke="none" stroke-width="0"/>
<line x1="211.50" y1="304.76" x2="211.50" y2="302.23" stroke="#000" stroke-width="1.1" />
<line x1="206.15" y1="302.50" x2="216.05" y2="302.50" stroke="#000" stroke-width="1.1" />
<rect x="229.20" y="304.76" width="18.00" height="20.24" fill="#808080" stroke="none" stroke-width="0"/>
<line x1="238.50" y1="304.76" x2="238.50" y2="303.31" stroke="#000" stroke-width="1.1" />
<line x1="233.25" y1="303.50" x2="243.15" y2="303.50" stroke="#000" stroke-width="1.1" />
<line x1="89.50" y1="213.75" x2="89.50" y2="325.50" stroke="#000" stroke-width="1.2" />
<line x1="89.10" y1="325.50" x2="252.50" y2="325.50" stroke="#000" stroke-width="1.2" />
<line x1="86.40" y1="325.50" x2="89.60" y2="325.50" stroke="#000" stroke-width="1" />
<text transform="translate(84.10 328.06) scale(0.9091 1)" font-size="9.35" text-anchor="end" font-weight="normal" fill="#222" >0</text>
<line x1="86.40" y1="288.50" x2="89.60" y2="288.50" stroke="#000" stroke-width="1" />
<text transform="translate(84.10 291.91) scale(0.9091 1)" font-size="9.35" text-anchor="end" font-weight="normal" fill="#222" >5</text>
<line x1="86.40" y1="252.50" x2="89.60" y2="252.50" stroke="#000" stroke-width="1" />
<text transform="translate(84.10 255.76) scale(0.9091 1)" font-size="9.35" text-anchor="end" font-weight="normal" fill="#222" >10</text>
<line x1="86.40" y1="216.50" x2="89.60" y2="216.50" stroke="#000" stroke-width="1" />
<text transform="translate(84.10 219.61) scale(0.9091 1)" font-size="9.35" text-anchor="end" font-weight="normal" fill="#222" >15</text>
<line x1="103.50" y1="325.00" x2="103.50" y2="328.00" stroke="#000" stroke-width="1" />
<text transform="translate(105.80 331.50) rotate(-90)" font-size="9.10" text-anchor="end" font-weight="normal" fill="#222" >No NHS</text>
<line x1="130.50" y1="325.00" x2="130.50" y2="328.00" stroke="#000" stroke-width="1" />
<text transform="translate(132.80 331.50) rotate(-90)" font-size="9.10" text-anchor="end" font-weight="normal" fill="#222" >PBS</text>
<line x1="157.50" y1="325.00" x2="157.50" y2="328.00" stroke="#000" stroke-width="1" />
<text transform="translate(159.80 331.50) rotate(-90)" font-size="9.10" text-anchor="end" font-weight="normal" fill="#222" >WT</text>
<line x1="184.50" y1="325.00" x2="184.50" y2="328.00" stroke="#000" stroke-width="1" />
<text transform="translate(186.80 331.50) rotate(-90)" font-size="9.10" text-anchor="end" font-weight="normal" fill="#222" >T1184R</text>
<line x1="211.50" y1="325.00" x2="211.50" y2="328.00" stroke="#000" stroke-width="1" />
<text transform="translate(213.90 331.50) rotate(-90)" font-size="9.10" text-anchor="end" font-weight="normal" fill="#222" >L1189R</text>
<line x1="238.50" y1="325.00" x2="238.50" y2="328.00" stroke="#000" stroke-width="1" />
<text transform="translate(241.00 331.50) rotate(-90)" font-size="9.10" text-anchor="end" font-weight="normal" fill="#222" >E1198A</text>
<text transform="translate(55.20 269.50) rotate(-90) scale(0.9091 1)" font-size="10.01" text-anchor="middle" font-weight="normal" fill="#222" >C3b deposition on</text>
<text transform="translate(68.30 268.30) rotate(-90) scale(0.9091 1)" font-size="10.01" text-anchor="middle" font-weight="normal" fill="#222" >untreated platelets [GMFI]</text>
<line x1="103.00" y1="185.50" x2="239.20" y2="185.50" stroke="#000" stroke-width="1.1" />
<line x1="130.50" y1="185.80" x2="130.50" y2="188.00" stroke="#000" stroke-width="1" />
<line x1="157.50" y1="185.80" x2="157.50" y2="188.00" stroke="#000" stroke-width="1" />
<line x1="184.50" y1="185.80" x2="184.50" y2="188.00" stroke="#000" stroke-width="1" />
<line x1="211.50" y1="185.80" x2="211.50" y2="188.00" stroke="#000" stroke-width="1" />
<line x1="238.50" y1="185.80" x2="238.50" y2="188.00" stroke="#000" stroke-width="1" />
<text transform="translate(130.00 197.30) scale(0.9091 1)" font-size="8.80" text-anchor="middle" font-weight="normal" fill="#222" >ns</text>
<circle cx="152.75" cy="193.30" r="1.2" fill="#111"/>
<circle cx="157.00" cy="193.30" r="1.2" fill="#111"/>
<circle cx="161.25" cy="193.30" r="1.2" fill="#111"/>
<circle cx="179.75" cy="193.30" r="1.2" fill="#111"/>
<circle cx="184.00" cy="193.30" r="1.2" fill="#111"/>
<circle cx="188.25" cy="193.30" r="1.2" fill="#111"/>
<text transform="translate(211.10 197.30) scale(0.9091 1)" font-size="8.80" text-anchor="middle" font-weight="normal" fill="#222" >ns</text>
<text transform="translate(238.20 197.30) scale(0.9091 1)" font-size="8.80" text-anchor="middle" font-weight="normal" fill="#222" >ns</text>
<line x1="130.00" y1="206.50" x2="239.20" y2="206.50" stroke="#000" stroke-width="1.1" />
<line x1="157.50" y1="206.40" x2="157.50" y2="208.60" stroke="#000" stroke-width="1" />
<line x1="184.50" y1="206.40" x2="184.50" y2="208.60" stroke="#000" stroke-width="1" />
<line x1="211.50" y1="206.40" x2="211.50" y2="208.60" stroke="#000" stroke-width="1" />
<line x1="238.50" y1="206.40" x2="238.50" y2="208.60" stroke="#000" stroke-width="1" />
<circle cx="152.75" cy="214.70" r="1.2" fill="#111"/>
<circle cx="157.00" cy="214.70" r="1.2" fill="#111"/>
<circle cx="161.25" cy="214.70" r="1.2" fill="#111"/>
<circle cx="179.75" cy="214.70" r="1.2" fill="#111"/>
<circle cx="184.00" cy="214.70" r="1.2" fill="#111"/>
<circle cx="188.25" cy="214.70" r="1.2" fill="#111"/>
<text transform="translate(211.10 218.40) scale(0.9091 1)" font-size="8.80" text-anchor="middle" font-weight="normal" fill="#222" >ns</text>
<text transform="translate(238.20 218.40) scale(0.9091 1)" font-size="8.80" text-anchor="middle" font-weight="normal" fill="#222" >ns</text>
<line x1="157.00" y1="228.50" x2="239.20" y2="228.50" stroke="#000" stroke-width="1.1" />
<line x1="184.50" y1="228.50" x2="184.50" y2="230.70" stroke="#000" stroke-width="1" />
<line x1="211.50" y1="228.50" x2="211.50" y2="230.70" stroke="#000" stroke-width="1" />
<line x1="238.50" y1="228.50" x2="238.50" y2="230.70" stroke="#000" stroke-width="1" />
<text transform="translate(184.00 238.90) scale(0.9091 1)" font-size="8.80" text-anchor="middle" font-weight="normal" fill="#222" >ns</text>
<circle cx="206.85" cy="236.20" r="1.2" fill="#111"/>
<circle cx="211.10" cy="236.20" r="1.2" fill="#111"/>
<circle cx="215.35" cy="236.20" r="1.2" fill="#111"/>
<circle cx="233.95" cy="236.20" r="1.2" fill="#111"/>
<circle cx="238.20" cy="236.20" r="1.2" fill="#111"/>
<circle cx="242.45" cy="236.20" r="1.2" fill="#111"/>
<rect x="339.30" y="302.61" width="19.00" height="22.69" fill="#808080" stroke="none" stroke-width="0"/>
<line x1="348.50" y1="302.61" x2="348.50" y2="301.51" stroke="#000" stroke-width="1.1" />
<line x1="343.57" y1="301.50" x2="354.03" y2="301.50" stroke="#000" stroke-width="1.1" />
<rect x="366.70" y="303.71" width="19.00" height="21.59" fill="#808080" stroke="none" stroke-width="0"/>
<line x1="376.50" y1="303.71" x2="376.50" y2="302.61" stroke="#000" stroke-width="1.1" />
<line x1="370.97" y1="302.50" x2="381.43" y2="302.50" stroke="#000" stroke-width="1.1" />
<rect x="394.30" y="298.95" width="19.00" height="26.35" fill="#808080" stroke="none" stroke-width="0"/>
<line x1="403.50" y1="298.95" x2="403.50" y2="291.63" stroke="#000" stroke-width="1.1" />
<line x1="398.57" y1="291.50" x2="409.03" y2="291.50" stroke="#000" stroke-width="1.1" />
<rect x="421.40" y="301.14" width="19.00" height="24.16" fill="#808080" stroke="none" stroke-width="0"/>
<line x1="430.50" y1="301.14" x2="430.50" y2="300.41" stroke="#000" stroke-width="1.1" />
<line x1="425.67" y1="300.50" x2="436.12" y2="300.50" stroke="#000" stroke-width="1.1" />
<rect x="449.00" y="300.05" width="19.00" height="25.25" fill="#808080" stroke="none" stroke-width="0"/>
<line x1="458.50" y1="300.05" x2="458.50" y2="294.92" stroke="#000" stroke-width="1.1" />
<line x1="453.27" y1="294.50" x2="463.73" y2="294.50" stroke="#000" stroke-width="1.1" />
<rect x="476.70" y="299.31" width="19.00" height="25.99" fill="#808080" stroke="none" stroke-width="0"/>
<line x1="486.50" y1="299.31" x2="486.50" y2="293.46" stroke="#000" stroke-width="1.1" />
<line x1="480.97" y1="293.50" x2="491.43" y2="293.50" stroke="#000" stroke-width="1.1" />
<line x1="334.50" y1="212.70" x2="334.50" y2="325.80" stroke="#000" stroke-width="1.2" />
<line x1="334.30" y1="325.50" x2="503.00" y2="325.50" stroke="#000" stroke-width="1.2" />
<line x1="331.60" y1="325.50" x2="334.80" y2="325.50" stroke="#000" stroke-width="1" />
<text transform="translate(328.60 328.18) scale(1.0526 1)" font-size="7.60" text-anchor="end" font-weight="normal" fill="#222" >0</text>
<line x1="331.60" y1="288.50" x2="334.80" y2="288.50" stroke="#000" stroke-width="1" />
<text transform="translate(328.60 291.58) scale(1.0526 1)" font-size="7.60" text-anchor="end" font-weight="normal" fill="#222" >5</text>
<line x1="331.60" y1="252.50" x2="334.80" y2="252.50" stroke="#000" stroke-width="1" />
<text transform="translate(328.60 254.98) scale(1.0526 1)" font-size="7.60" text-anchor="end" font-weight="normal" fill="#222" >10</text>
<line x1="331.60" y1="215.50" x2="334.80" y2="215.50" stroke="#000" stroke-width="1" />
<text transform="translate(328.60 218.38) scale(1.0526 1)" font-size="7.60" text-anchor="end" font-weight="normal" fill="#222" >15</text>
<line x1="348.50" y1="325.30" x2="348.50" y2="328.30" stroke="#000" stroke-width="1" />
<text transform="translate(351.40 331.30) rotate(-90) scale(1.1364 1)" font-size="8.10" text-anchor="end" font-weight="normal" fill="#222" >No NHS</text>
<line x1="376.50" y1="325.30" x2="376.50" y2="328.30" stroke="#000" stroke-width="1" />
<text transform="translate(378.80 331.30) rotate(-90) scale(1.1364 1)" font-size="8.10" text-anchor="end" font-weight="normal" fill="#222" >PBS</text>
<line x1="403.50" y1="325.30" x2="403.50" y2="328.30" stroke="#000" stroke-width="1" />
<text transform="translate(406.40 331.30) rotate(-90) scale(1.1364 1)" font-size="8.10" text-anchor="end" font-weight="normal" fill="#222" >WT</text>
<line x1="430.50" y1="325.30" x2="430.50" y2="328.30" stroke="#000" stroke-width="1" />
<text transform="translate(433.50 331.30) rotate(-90) scale(1.1364 1)" font-size="8.10" text-anchor="end" font-weight="normal" fill="#222" >T1184R</text>
<line x1="458.50" y1="325.30" x2="458.50" y2="328.30" stroke="#000" stroke-width="1" />
<text transform="translate(461.10 331.30) rotate(-90) scale(1.1364 1)" font-size="8.10" text-anchor="end" font-weight="normal" fill="#222" >L1189R</text>
<line x1="486.50" y1="325.30" x2="486.50" y2="328.30" stroke="#000" stroke-width="1" />
<text transform="translate(488.80 331.30) rotate(-90) scale(1.1364 1)" font-size="8.10" text-anchor="end" font-weight="normal" fill="#222" >E1198A</text>
<text transform="translate(300.60 270.60) rotate(-90) scale(0.9091 1)" font-size="9.79" text-anchor="middle" font-weight="normal" fill="#222" >C3b deposition on sialidase-</text>
<text transform="translate(313.40 269.00) rotate(-90) scale(0.9091 1)" font-size="9.86" text-anchor="middle" font-weight="normal" fill="#222" >treated platelets [GMFI]</text>
<rect x="94.00" y="495.43" width="14.00" height="8.57" fill="#737373" stroke="none" stroke-width="0"/>
<line x1="101.50" y1="495.43" x2="101.50" y2="494.24" stroke="#000" stroke-width="1.1" />
<line x1="97.50" y1="494.50" x2="104.50" y2="494.50" stroke="#000" stroke-width="1.1" />
<rect x="117.30" y="439.26" width="14.00" height="64.74" fill="#737373" stroke="none" stroke-width="0"/>
<line x1="124.50" y1="439.26" x2="124.50" y2="428.79" stroke="#000" stroke-width="1.1" />
<line x1="120.80" y1="428.50" x2="127.80" y2="428.50" stroke="#000" stroke-width="1.1" />
<rect x="140.60" y="442.60" width="14.00" height="61.40" fill="#bfbfbf" stroke="none" stroke-width="0"/>
<line x1="147.50" y1="442.60" x2="147.50" y2="431.89" stroke="#000" stroke-width="1.1" />
<line x1="144.10" y1="431.50" x2="151.10" y2="431.50" stroke="#000" stroke-width="1.1" />
<rect x="163.90" y="495.19" width="14.00" height="8.81" fill="#bfbfbf" stroke="none" stroke-width="0"/>
<line x1="170.50" y1="495.19" x2="170.50" y2="494.24" stroke="#000" stroke-width="1.1" />
<line x1="167.40" y1="494.50" x2="174.40" y2="494.50" stroke="#000" stroke-width="1.1" />
<rect x="187.20" y="495.19" width="14.00" height="8.81" fill="#bfbfbf" stroke="none" stroke-width="0"/>
<line x1="194.50" y1="495.19" x2="194.50" y2="494.24" stroke="#000" stroke-width="1.1" />
<line x1="190.70" y1="494.50" x2="197.70" y2="494.50" stroke="#000" stroke-width="1.1" />
<rect x="210.50" y="471.87" width="14.00" height="32.13" fill="#bfbfbf" stroke="none" stroke-width="0"/>
<line x1="217.50" y1="471.87" x2="217.50" y2="462.11" stroke="#000" stroke-width="1.1" />
<line x1="214.00" y1="462.50" x2="221.00" y2="462.50" stroke="#000" stroke-width="1.1" />
<rect x="233.80" y="495.19" width="14.00" height="8.81" fill="#bfbfbf" stroke="none" stroke-width="0"/>
<line x1="240.50" y1="495.19" x2="240.50" y2="494.24" stroke="#000" stroke-width="1.1" />
<line x1="237.30" y1="494.50" x2="244.30" y2="494.50" stroke="#000" stroke-width="1.1" />
<line x1="90.50" y1="406.00" x2="90.50" y2="504.50" stroke="#000" stroke-width="1.2" />
<line x1="89.80" y1="504.50" x2="258.00" y2="504.50" stroke="#000" stroke-width="1.2" />
<line x1="87.10" y1="504.50" x2="90.30" y2="504.50" stroke="#000" stroke-width="1" />
<text transform="translate(84.80 507.06) scale(0.9091 1)" font-size="9.35" text-anchor="end" font-weight="normal" fill="#222" >0</text>
<line x1="87.10" y1="480.50" x2="90.30" y2="480.50" stroke="#000" stroke-width="1" />
<text transform="translate(84.80 483.26) scale(0.9091 1)" font-size="9.35" text-anchor="end" font-weight="normal" fill="#222" >10</text>
<line x1="87.10" y1="456.50" x2="90.30" y2="456.50" stroke="#000" stroke-width="1" />
<text transform="translate(84.80 459.46) scale(0.9091 1)" font-size="9.35" text-anchor="end" font-weight="normal" fill="#222" >20</text>
<line x1="87.10" y1="432.50" x2="90.30" y2="432.50" stroke="#000" stroke-width="1" />
<text transform="translate(84.80 435.66) scale(0.9091 1)" font-size="9.35" text-anchor="end" font-weight="normal" fill="#222" >30</text>
<line x1="87.10" y1="408.50" x2="90.30" y2="408.50" stroke="#000" stroke-width="1" />
<text transform="translate(84.80 411.86) scale(0.9091 1)" font-size="9.35" text-anchor="end" font-weight="normal" fill="#222" >40</text>
<line x1="101.50" y1="504.00" x2="101.50" y2="507.00" stroke="#000" stroke-width="1" />
<text transform="translate(103.40 510.50) rotate(-90)" font-size="9.20" text-anchor="end" font-weight="normal" fill="#222" >PBS</text>
<line x1="124.50" y1="504.00" x2="124.50" y2="507.00" stroke="#000" stroke-width="1" />
<text transform="translate(126.70 510.50) rotate(-90)" font-size="9.20" text-anchor="end" font-weight="normal" fill="#222" >WT</text>
<line x1="147.50" y1="504.00" x2="147.50" y2="507.00" stroke="#000" stroke-width="1" />
<text transform="translate(150.00 510.50) rotate(-90)" font-size="9.20" text-anchor="end" font-weight="normal" fill="#222" >W1157L</text>
<line x1="170.50" y1="504.00" x2="170.50" y2="507.00" stroke="#000" stroke-width="1" />
<text transform="translate(173.30 510.50) rotate(-90)" font-size="9.20" text-anchor="end" font-weight="normal" fill="#222" >R1182A</text>
<line x1="194.50" y1="504.00" x2="194.50" y2="507.00" stroke="#000" stroke-width="1" />
<text transform="translate(196.60 510.50) rotate(-90)" font-size="9.20" text-anchor="end" font-weight="normal" fill="#222" >W1183L</text>
<line x1="217.50" y1="504.00" x2="217.50" y2="507.00" stroke="#000" stroke-width="1" />
<text transform="translate(219.90 510.50) rotate(-90)" font-size="9.20" text-anchor="end" font-weight="normal" fill="#222" >K1186A</text>
<line x1="240.50" y1="504.00" x2="240.50" y2="507.00" stroke="#000" stroke-width="1" />
<text transform="translate(243.20 510.50) rotate(-90)" font-size="9.20" text-anchor="end" font-weight="normal" fill="#222" >R1215Q</text>
<text transform="translate(55.20 456.00) rotate(-90) scale(0.9091 1)" font-size="10.01" text-anchor="middle" font-weight="normal" fill="#222" >C3b deposition on</text>
<text transform="translate(68.30 456.00) rotate(-90) scale(0.9091 1)" font-size="10.01" text-anchor="middle" font-weight="normal" fill="#222" >untreated platelets [GMFI]</text>
<line x1="101.10" y1="386.50" x2="241.70" y2="386.50" stroke="#000" stroke-width="1.1" />
<line x1="124.50" y1="386.60" x2="124.50" y2="388.80" stroke="#000" stroke-width="1" />
<line x1="147.50" y1="386.60" x2="147.50" y2="388.80" stroke="#000" stroke-width="1" />
<line x1="170.50" y1="386.60" x2="170.50" y2="388.80" stroke="#000" stroke-width="1" />
<line x1="194.50" y1="386.60" x2="194.50" y2="388.80" stroke="#000" stroke-width="1" />
<line x1="217.50" y1="386.60" x2="217.50" y2="388.80" stroke="#000" stroke-width="1" />
<line x1="240.50" y1="386.60" x2="240.50" y2="388.80" stroke="#000" stroke-width="1" />
<circle cx="120.05" cy="394.50" r="1.2" fill="#111"/>
<circle cx="124.30" cy="394.50" r="1.2" fill="#111"/>
<circle cx="128.55" cy="394.50" r="1.2" fill="#111"/>
<circle cx="143.35" cy="394.50" r="1.2" fill="#111"/>
<circle cx="147.60" cy="394.50" r="1.2" fill="#111"/>
<circle cx="151.85" cy="394.50" r="1.2" fill="#111"/>
<text transform="translate(170.90 398.80) scale(0.9091 1)" font-size="8.80" text-anchor="middle" font-weight="normal" fill="#222" >ns</text>
<text transform="translate(194.20 398.80) scale(0.9091 1)" font-size="8.80" text-anchor="middle" font-weight="normal" fill="#222" >ns</text>
<circle cx="215.38" cy="394.50" r="1.2" fill="#111"/>
<circle cx="219.62" cy="394.50" r="1.2" fill="#111"/>
<text transform="translate(240.80 398.80) scale(0.9091 1)" font-size="8.80" text-anchor="middle" font-weight="normal" fill="#222" >ns</text>
<line x1="124.30" y1="406.50" x2="241.70" y2="406.50" stroke="#000" stroke-width="1.1" />
<line x1="147.50" y1="406.90" x2="147.50" y2="409.10" stroke="#000" stroke-width="1" />
<line x1="170.50" y1="406.90" x2="170.50" y2="409.10" stroke="#000" stroke-width="1" />
<line x1="194.50" y1="406.90" x2="194.50" y2="409.10" stroke="#000" stroke-width="1" />
<line x1="217.50" y1="406.90" x2="217.50" y2="409.10" stroke="#000" stroke-width="1" />
<line x1="240.50" y1="406.90" x2="240.50" y2="409.10" stroke="#000" stroke-width="1" />
<text transform="translate(147.60 418.80) scale(0.9091 1)" font-size="8.80" text-anchor="middle" font-weight="normal" fill="#222" >ns</text>
<circle cx="166.65" cy="415.00" r="1.2" fill="#111"/>
<circle cx="170.90" cy="415.00" r="1.2" fill="#111"/>
<circle cx="175.15" cy="415.00" r="1.2" fill="#111"/>
<circle cx="189.95" cy="415.00" r="1.2" fill="#111"/>
<circle cx="194.20" cy="415.00" r="1.2" fill="#111"/>
<circle cx="198.45" cy="415.00" r="1.2" fill="#111"/>
<circle cx="213.25" cy="415.00" r="1.2" fill="#111"/>
<circle cx="217.50" cy="415.00" r="1.2" fill="#111"/>
<circle cx="221.75" cy="415.00" r="1.2" fill="#111"/>
<circle cx="236.55" cy="415.00" r="1.2" fill="#111"/>
<circle cx="240.80" cy="415.00" r="1.2" fill="#111"/>
<circle cx="245.05" cy="415.00" r="1.2" fill="#111"/>
<rect x="338.50" y="494.88" width="13.60" height="9.12" fill="#737373" stroke="none" stroke-width="0"/>
<line x1="345.50" y1="494.88" x2="345.50" y2="494.16" stroke="#000" stroke-width="1.1" />
<line x1="341.76" y1="494.50" x2="348.84" y2="494.50" stroke="#000" stroke-width="1.1" />
<rect x="361.85" y="493.20" width="13.60" height="10.80" fill="#737373" stroke="none" stroke-width="0"/>
<line x1="368.50" y1="493.20" x2="368.50" y2="492.36" stroke="#000" stroke-width="1.1" />
<line x1="365.11" y1="492.50" x2="372.19" y2="492.50" stroke="#000" stroke-width="1.1" />
<rect x="385.20" y="493.68" width="13.60" height="10.32" fill="#bfbfbf" stroke="none" stroke-width="0"/>
<line x1="392.50" y1="493.68" x2="392.50" y2="492.96" stroke="#000" stroke-width="1.1" />
<line x1="388.46" y1="492.50" x2="395.54" y2="492.50" stroke="#000" stroke-width="1.1" />
<rect x="408.55" y="494.64" width="13.60" height="9.36" fill="#bfbfbf" stroke="none" stroke-width="0"/>
<line x1="415.50" y1="494.64" x2="415.50" y2="493.92" stroke="#000" stroke-width="1.1" />
<line x1="411.81" y1="493.50" x2="418.89" y2="493.50" stroke="#000" stroke-width="1.1" />
<rect x="431.90" y="494.16" width="13.60" height="9.84" fill="#bfbfbf" stroke="none" stroke-width="0"/>
<line x1="438.50" y1="494.16" x2="438.50" y2="493.32" stroke="#000" stroke-width="1.1" />
<line x1="435.16" y1="493.50" x2="442.24" y2="493.50" stroke="#000" stroke-width="1.1" />
<rect x="455.25" y="493.92" width="13.60" height="10.08" fill="#bfbfbf" stroke="none" stroke-width="0"/>
<line x1="462.50" y1="493.92" x2="462.50" y2="493.20" stroke="#000" stroke-width="1.1" />
<line x1="458.51" y1="493.50" x2="465.59" y2="493.50" stroke="#000" stroke-width="1.1" />
<rect x="478.60" y="495.00" width="13.60" height="9.00" fill="#bfbfbf" stroke="none" stroke-width="0"/>
<line x1="485.50" y1="495.00" x2="485.50" y2="494.04" stroke="#000" stroke-width="1.1" />
<line x1="481.86" y1="494.50" x2="488.94" y2="494.50" stroke="#000" stroke-width="1.1" />
<line x1="334.50" y1="405.20" x2="334.50" y2="504.50" stroke="#000" stroke-width="1.2" />
<line x1="333.90" y1="504.50" x2="500.60" y2="504.50" stroke="#000" stroke-width="1.2" />
<line x1="331.20" y1="504.50" x2="334.40" y2="504.50" stroke="#000" stroke-width="1" />
<text transform="translate(328.10 506.99) scale(0.9091 1)" font-size="9.13" text-anchor="end" font-weight="normal" fill="#222" >0</text>
<line x1="331.20" y1="480.50" x2="334.40" y2="480.50" stroke="#000" stroke-width="1" />
<text transform="translate(328.10 482.99) scale(0.9091 1)" font-size="9.13" text-anchor="end" font-weight="normal" fill="#222" >10</text>
<line x1="331.20" y1="456.50" x2="334.40" y2="456.50" stroke="#000" stroke-width="1" />
<text transform="translate(328.10 458.99) scale(0.9091 1)" font-size="9.13" text-anchor="end" font-weight="normal" fill="#222" >20</text>
<line x1="331.20" y1="432.50" x2="334.40" y2="432.50" stroke="#000" stroke-width="1" />
<text transform="translate(328.10 434.99) scale(0.9091 1)" font-size="9.13" text-anchor="end" font-weight="normal" fill="#222" >30</text>
<line x1="331.20" y1="408.50" x2="334.40" y2="408.50" stroke="#000" stroke-width="1" />
<text transform="translate(328.10 410.99) scale(0.9091 1)" font-size="9.13" text-anchor="end" font-weight="normal" fill="#222" >40</text>
<line x1="345.50" y1="504.00" x2="345.50" y2="507.00" stroke="#000" stroke-width="1" />
<text transform="translate(347.30 510.30) rotate(-90)" font-size="9.20" text-anchor="end" font-weight="normal" fill="#222" >PBS</text>
<line x1="368.50" y1="504.00" x2="368.50" y2="507.00" stroke="#000" stroke-width="1" />
<text transform="translate(370.65 510.30) rotate(-90)" font-size="9.20" text-anchor="end" font-weight="normal" fill="#222" >WT</text>
<line x1="392.50" y1="504.00" x2="392.50" y2="507.00" stroke="#000" stroke-width="1" />
<text transform="translate(394.00 510.30) rotate(-90)" font-size="9.20" text-anchor="end" font-weight="normal" fill="#222" >W1157L</text>
<line x1="415.50" y1="504.00" x2="415.50" y2="507.00" stroke="#000" stroke-width="1" />
<text transform="translate(417.35 510.30) rotate(-90)" font-size="9.20" text-anchor="end" font-weight="normal" fill="#222" >R1182A</text>
<line x1="438.50" y1="504.00" x2="438.50" y2="507.00" stroke="#000" stroke-width="1" />
<text transform="translate(440.70 510.30) rotate(-90)" font-size="9.20" text-anchor="end" font-weight="normal" fill="#222" >W1183L</text>
<line x1="462.50" y1="504.00" x2="462.50" y2="507.00" stroke="#000" stroke-width="1" />
<text transform="translate(464.05 510.30) rotate(-90)" font-size="9.20" text-anchor="end" font-weight="normal" fill="#222" >K1186A</text>
<line x1="485.50" y1="504.00" x2="485.50" y2="507.00" stroke="#000" stroke-width="1" />
<text transform="translate(487.40 510.30) rotate(-90)" font-size="9.20" text-anchor="end" font-weight="normal" fill="#222" >R1215Q</text>
<text transform="translate(300.60 454.80) rotate(-90) scale(0.9091 1)" font-size="9.90" text-anchor="middle" font-weight="normal" fill="#222" >C3b deposition on sialidase-</text>
<text transform="translate(313.00 455.00) rotate(-90) scale(0.9091 1)" font-size="9.85" text-anchor="middle" font-weight="normal" fill="#222" >treated platelets [GMFI]</text>
</svg></body></html>
